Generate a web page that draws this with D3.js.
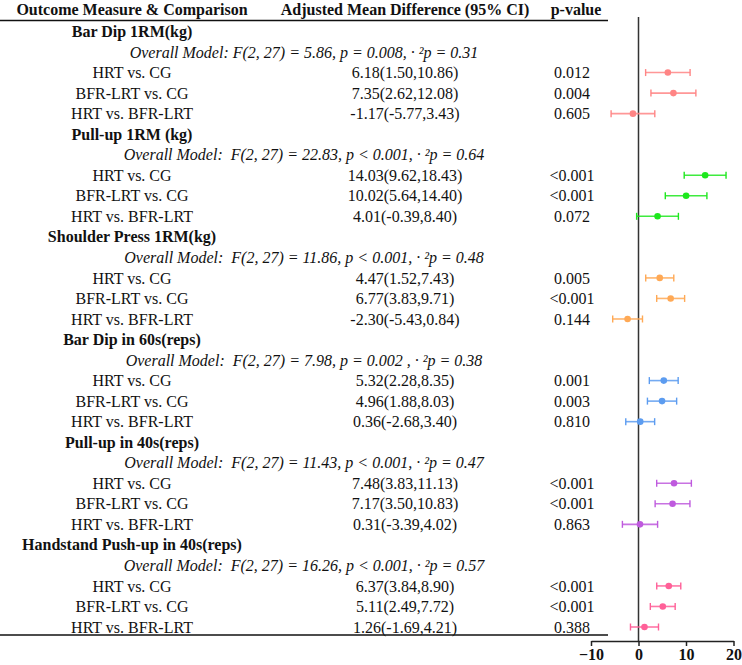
<!DOCTYPE html>
<html>
<head>
<meta charset="utf-8">
<script src="https://cdn.jsdelivr.net/npm/d3@7"></script>
<style>
  body { margin: 0; background: #fff; }
  text { font-family: "Liberation Serif", "Times New Roman", serif; font-size: 16px; fill: #111; }
</style>
</head>
<body>
<div id="forest"></div>
<script>
// table content
const outcomes = [
  "Bar Dip 1RM(kg)",
  "Pull-up 1RM (kg)",
  "Shoulder Press 1RM(kg)",
  "Bar Dip in 60s(reps)",
  "Pull-up in 40s(reps)",
  "Handstand Push-up in 40s(reps)"
];
const modelStats = [
  "Overall Model: F(2, 27) = 5.86, p = 0.008, · ²p = 0.31",
  "Overall Model:  F(2, 27) = 22.83, p < 0.001, · ²p = 0.64",
  "Overall Model:  F(2, 27) = 11.86, p < 0.001, · ²p = 0.48",
  "Overall Model:  F(2, 27) = 7.98, p = 0.002 , · ²p = 0.38",
  "Overall Model:  F(2, 27) = 11.43, p < 0.001, · ²p = 0.47",
  "Overall Model:  F(2, 27) = 16.26, p < 0.001, · ²p = 0.57"
];
const comparisons = ["HRT vs. CG", "BFR-LRT vs. CG", "HRT vs. BFR-LRT"];
const estimates = [
  [6.18, 7.35, -1.17],
  [14.03, 10.02, 4.01],
  [4.47, 6.77, -2.30],
  [5.32, 4.96, 0.36],
  [7.48, 7.17, 0.31],
  [6.37, 5.11, 1.26]
];
const lowerCI = [
  [1.50, 2.62, -5.77],
  [9.62, 5.64, -0.39],
  [1.52, 3.83, -5.43],
  [2.28, 1.88, -2.68],
  [3.83, 3.50, -3.39],
  [3.84, 2.49, -1.69]
];
const upperCI = [
  [10.86, 12.08, 3.43],
  [18.43, 14.40, 8.40],
  [7.43, 9.71, 0.84],
  [8.35, 8.03, 3.40],
  [11.13, 10.83, 4.02],
  [8.90, 7.72, 4.21]
];
const pValues = [
  ["0.012", "0.004", "0.605"],
  ["<0.001", "<0.001", "0.072"],
  ["0.005", "<0.001", "0.144"],
  ["0.001", "0.003", "0.810"],
  ["<0.001", "<0.001", "0.863"],
  ["<0.001", "<0.001", "0.388"]
];
const xTicks = [-10, 0, 10, 20];

const palette = ["#ff8585", "#1ee81e", "#ffa955", "#5c9cf0", "#bf5ade", "#ff6098"];

const width = 742, height = 665;

const svg = d3.select("#forest").append("svg")
  .attr("width", width)
  .attr("height", height);

// flatten rows: title, model, 3 comparisons per outcome
const rows = [];
outcomes.forEach((o, g) => {
  rows.push({ type: "title", g, text: o });
  rows.push({ type: "model", g, text: modelStats[g] });
  comparisons.forEach((c, k) => {
    rows.push({ type: "cmp", g, k, text: c,
      est: estimates[g][k], lo: lowerCI[g][k], hi: upperCI[g][k],
      ci: `${estimates[g][k].toFixed(2)}(${lowerCI[g][k].toFixed(2)},${upperCI[g][k].toFixed(2)})`,
      p: pValues[g][k] });
  });
});

const y = d3.scalePoint()
  .domain(d3.range(rows.length))
  .range([31.5, 627]);

const x = d3.scaleLinear()
  .domain([-10, 20])
  .range([591, 733.5]);

const colCmp = 132, colModel = 304, colCI = 405, colP = 572;

// header
const header = [
  { t: "Outcome Measure & Comparison", x: colCmp },
  { t: "Adjusted Mean Difference (95% CI)", x: colCI },
  { t: "p-value", x: 576 }
];
svg.selectAll(".hdr").data(header).enter().append("text")
  .attr("x", d => d.x).attr("y", 15)
  .attr("text-anchor", "middle")
  .style("font-weight", "bold")
  .text(d => d.t);

svg.append("line").attr("x1", 0).attr("x2", 608).attr("y1", 20.5).attr("y2", 20.5)
  .attr("stroke", "#111").attr("stroke-width", 1.5);
svg.append("line").attr("x1", 0).attr("x2", 608).attr("y1", 635).attr("y2", 635)
  .attr("stroke", "#111").attr("stroke-width", 1.5);

// table text
const tbl = svg.append("g");
rows.forEach((r, i) => {
  const yy = y(i);
  if (r.type === "title") {
    tbl.append("text").attr("x", colCmp).attr("y", yy).attr("dy", "0.35em")
      .attr("text-anchor", "middle").style("font-weight", "bold").text(r.text);
  } else if (r.type === "model") {
    tbl.append("text").attr("x", colModel).attr("y", yy).attr("dy", "0.35em")
      .attr("text-anchor", "middle").style("font-style", "italic")
      .style("white-space", "pre").text(r.text);
  } else {
    tbl.append("text").attr("x", colCmp).attr("y", yy).attr("dy", "0.35em")
      .attr("text-anchor", "middle").text(r.text);
    tbl.append("text").attr("x", colCI).attr("y", yy).attr("dy", "0.35em")
      .attr("text-anchor", "middle").text(r.ci);
    tbl.append("text").attr("x", colP).attr("y", yy).attr("dy", "0.35em")
      .attr("text-anchor", "middle").text(r.p);
  }
});

// zero reference line
svg.append("line")
  .attr("x1", x(0)).attr("x2", x(0))
  .attr("y1", 17).attr("y2", 641)
  .attr("stroke", "#333").attr("stroke-width", 1.5);

// error bars
const cmpRows = rows.map((r, i) => ({ ...r, i })).filter(r => r.type === "cmp");
const bars = svg.selectAll(".bar").data(cmpRows).enter().append("g")
  .attr("transform", d => `translate(0,${y(d.i)})`);

bars.append("line")
  .attr("x1", d => x(d.lo)).attr("x2", d => x(d.hi))
  .attr("stroke", d => palette[d.g]).attr("stroke-width", 1.6).attr("opacity", 0.85);
bars.selectAll(".cap").data(d => [d.lo, d.hi].map(v => ({ v, g: d.g }))).enter().append("line")
  .attr("x1", c => x(c.v)).attr("x2", c => x(c.v))
  .attr("y1", -3.5).attr("y2", 3.5)
  .attr("stroke", c => palette[c.g]).attr("stroke-width", 1.4);
bars.append("circle")
  .attr("cx", d => x(d.est)).attr("r", 3.3)
  .attr("fill", d => palette[d.g]);

// x axis
const axis = svg.append("g")
  .attr("transform", "translate(0,641)")
  .call(d3.axisBottom(x).tickValues(xTicks).tickSize(5).tickSizeOuter(0).tickPadding(3));
axis.select(".domain").attr("stroke", "#222").attr("stroke-width", 1.5);
axis.selectAll(".tick line").attr("stroke", "#222").attr("stroke-width", 1.5);
axis.selectAll(".tick text")
  .style("font-family", "'Liberation Serif', 'Times New Roman', serif")
  .style("font-size", "16px").style("font-weight", "bold").attr("fill", "#111");
</script>
</body>
</html>
